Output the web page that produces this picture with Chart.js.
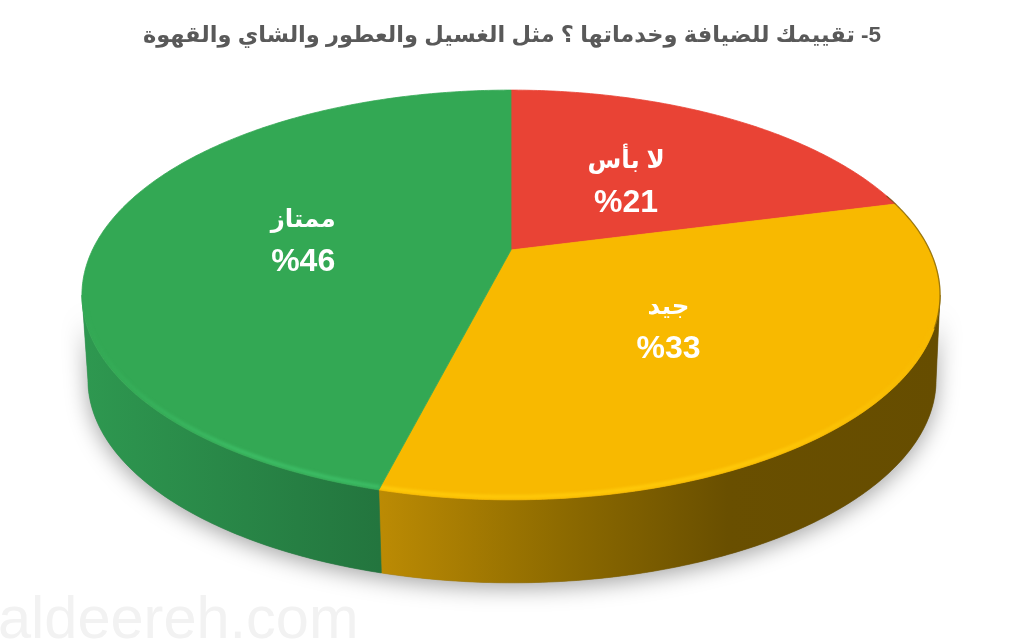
<!DOCTYPE html>
<html dir="rtl">
<head>
<meta charset="utf-8">
<style>
html,body{margin:0;padding:0;background:#fff;overflow:hidden}
canvas{position:absolute;left:0;top:0;direction:rtl}
</style>
<script src="https://cdn.jsdelivr.net/npm/chart.js@4"></script>
</head>
<body>
<canvas id="c" width="1024" height="640"></canvas>
<script>
const categories = ["لا بأس", "جيد", "ممتاز"];
const values = [21, 33, 46];
const sliceColors = ["#E94335", "#F8B900", "#33A854"];
const titleText = "5- تقييمك للضيافة وخدماتها ؟ مثل الغسيل والعطور والشاي والقهوة";
const watermark = "aldeereh.com";

// projection of the flat pie onto the tilted disc
const cx = 511, apexY = 250, A = 418.6, B = 195, K = 0.2195;
const topE = {x: 511, y: 295, rx: 429, ry: 205};
const botE = {x: 512, y: 380, rx: 424, ry: 203};
function proj(a, r) {
  const u = Math.cos(a) * r, v = Math.sin(a) * r, w = 1 - K * v;
  return {x: cx + A * u / w, y: apexY + B * v / w};
}
function onE(a, E, inset) {
  const p = proj(a, 1);
  const ex = (p.x - topE.x) / topE.rx, ey = (p.y - topE.y) / topE.ry;
  return {x: E.x + ex * (E.rx - inset), y: E.y + ey * (E.ry - inset)};
}
function trace(ctx, a0, a1, f, first) {
  const n = Math.max(4, Math.ceil(Math.abs(a1 - a0) * 90));
  for (let i = 0; i <= n; i++) {
    const p = f(a0 + (a1 - a0) * i / n);
    if (i === 0 && first) ctx.moveTo(p.x, p.y); else ctx.lineTo(p.x, p.y);
  }
}
const wallStops = [
  [[0, "#e94335"], [1, "#a82d24"]],
  [[0, "#BC8B04"], [0.32, "#8E6B00"], [0.62, "#694F00"], [1, "#664D00"]],
  [[0, "#2E9850"], [1, "#23753E"]]
];
const wallRange = [[800, 940], [378, 942], [84, 380]];
const bevel = ["#F25A4C", "#FFCB0A", "#3DBE66"];
const sideR = Math.asin(K), sideL = Math.PI - Math.asin(K);

const disc = {
  id: "disc",
  beforeDatasetDraw(chart) {
    const ctx = chart.ctx, arcs = chart.getDatasetMeta(0).data;
    const P = a => proj(a, 1), Q = a => onE(a, botE, 0);
    ctx.save();
    // soft ground shadow
    ctx.save();
    ctx.shadowColor = "rgba(0,0,0,0.36)";
    ctx.shadowBlur = 22;
    ctx.shadowOffsetY = 5;
    ctx.fillStyle = "#777";
    ctx.beginPath();
    trace(ctx, sideR, sideL, Q, true);
    trace(ctx, sideL, sideR, P, false);
    ctx.closePath();
    ctx.fill();
    ctx.restore();
    // side wall
    arcs.forEach((arc, i) => {
      const s = Math.max(arc.startAngle, sideR);
      const e = Math.min(arc.endAngle, sideL);
      if (e <= s) return;
      const g = ctx.createLinearGradient(wallRange[i][0], 0, wallRange[i][1], 0);
      wallStops[i].forEach(st => g.addColorStop(st[0], st[1]));
      ctx.fillStyle = g;
      ctx.beginPath();
      trace(ctx, s, e, P, true);
      trace(ctx, e, s, Q, false);
      ctx.closePath();
      ctx.fill();
      ctx.strokeStyle = g;
      ctx.lineWidth = 0.6;
      ctx.stroke();
    });
    // top face, clipped for bevel
    arcs.forEach((arc, i) => {
      const col = arc.options.backgroundColor;
      const path = new Path2D();
      path.moveTo(cx, apexY);
      const n = Math.ceil((arc.endAngle - arc.startAngle) * 90);
      for (let k = 0; k <= n; k++) {
        const p = P(arc.startAngle + (arc.endAngle - arc.startAngle) * k / n);
        path.lineTo(p.x, p.y);
      }
      path.closePath();
      ctx.fillStyle = col;
      ctx.strokeStyle = col;
      ctx.lineWidth = 0.8;
      ctx.fill(path);
      ctx.stroke(path);
      // light bevel along front rim only
      const bs = Math.max(arc.startAngle, sideR), be = Math.min(arc.endAngle, sideL);
      if (be > bs) {
        ctx.save();
        ctx.clip(path);
        const g = ctx.createLinearGradient(i === 2 ? 82 : 945, 0, i === 2 ? 240 : 760, 0);
        g.addColorStop(0, bevel[i] + "00");
        g.addColorStop(1, bevel[i]);
        ctx.filter = "blur(1.4px)";
        ctx.strokeStyle = g;
        ctx.lineWidth = 3.5;
        ctx.beginPath();
        trace(ctx, bs, be, a => onE(a, topE, 3), true);
        ctx.stroke();
        ctx.restore();
      }
    });
    // soft dark edge on the right side of the rim
    ctx.save();
    ctx.filter = "blur(0.7px)";
    ctx.strokeStyle = "rgba(95,72,0,0.6)";
    ctx.lineWidth = 1.3;
    ctx.beginPath();
    trace(ctx, -0.3, 0.38, P, true);
    ctx.stroke();
    ctx.restore();
    // watermark
    ctx.fillStyle = "#F2F2F2";
    ctx.font = '59.5px "Liberation Sans"';
    ctx.textAlign = "left";
    ctx.direction = "ltr";
    ctx.textBaseline = "alphabetic";
    ctx.fillText(watermark, -2, 638);
    ctx.restore();
    return false;
  },
  afterDraw(chart) {
    const ctx = chart.ctx, arcs = chart.getDatasetMeta(0).data;
    ctx.save();
    ctx.direction = "rtl";
    ctx.textAlign = "center";
    ctx.textBaseline = "alphabetic";
    ctx.fillStyle = "#fff";
    arcs.forEach((arc, i) => {
      const p = proj((arc.startAngle + arc.endAngle) / 2, 0.5);
      ctx.font = 'bold 24.5px "Liberation Sans", "DejaVu Sans"';
      ctx.fillText(categories[i], p.x - 3, p.y - 11);
      ctx.font = 'bold 32px "Liberation Sans", "DejaVu Sans"';
      ctx.fillText("%" + values[i], p.x - 3, p.y + 33);
    });
    ctx.restore();
  }
};

new Chart(document.getElementById("c"), {
  type: "pie",
  data: {labels: categories, datasets: [{data: values, backgroundColor: sliceColors, borderWidth: 0}]},
  plugins: [disc],
  options: {
    responsive: false,
    animation: false,
    rotation: 0,
    plugins: {
      legend: {display: false},
      tooltip: {enabled: false},
      title: {
        display: true,
        text: titleText,
        color: "#595959",
        font: {family: '"Liberation Sans", "DejaVu Sans"', size: 22.5, weight: "bold"},
        padding: {top: 22, bottom: 10}
      }
    }
  }
});
</script>
</body>
</html>
